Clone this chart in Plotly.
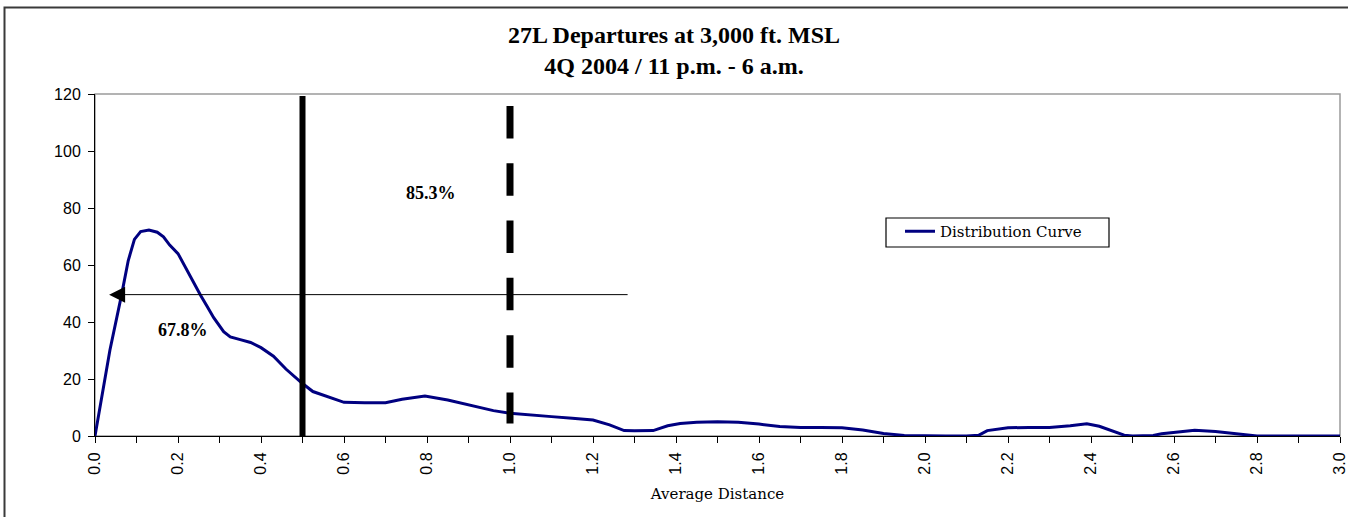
import plotly.graph_objects as go

# ---- data ----
dist = [0.0, 0.036, 0.064, 0.08, 0.095, 0.11, 0.13, 0.15, 0.165, 0.18, 0.2, 0.22, 0.24,
        0.254, 0.27, 0.286, 0.31, 0.326, 0.35, 0.375, 0.4, 0.43, 0.46, 0.5, 0.525, 0.56,
        0.6, 0.65, 0.7, 0.74, 0.795, 0.85, 0.9, 0.96, 1.0, 1.04, 1.1, 1.15, 1.2, 1.24,
        1.275, 1.3, 1.345, 1.38, 1.41, 1.45, 1.5, 1.55, 1.6, 1.65, 1.7, 1.75, 1.8, 1.85,
        1.9, 1.95, 2.0, 2.05, 2.1, 2.13, 2.15, 2.2, 2.25, 2.3, 2.35, 2.39, 2.42, 2.45,
        2.48, 2.5, 2.55, 2.57, 2.6, 2.65, 2.7, 2.75, 2.78, 2.8, 2.9, 3.0]
curve = [0.0, 30.2, 49.5, 61.5, 69.0, 71.7, 72.3, 71.5, 69.9, 67.0, 64.0, 58.5, 53.5,
         49.5, 45.5, 41.5, 36.6, 34.8, 33.8, 32.8, 31.0, 28.0, 23.5, 18.4, 15.6, 13.8,
         11.8, 11.7, 11.7, 12.9, 14.0, 12.6, 11.0, 8.9, 8.0, 7.6, 6.8, 6.2, 5.6, 3.9,
         1.9, 1.8, 1.9, 3.6, 4.4, 4.8, 5.0, 4.8, 4.2, 3.3, 3.0, 3.0, 2.9, 2.1,
         0.9, 0.2, 0.0, 0.0, 0.0, 0.3, 1.9, 2.9, 3.0, 3.0, 3.6, 4.3, 3.4, 1.9,
         0.3, 0.0, 0.2, 0.8, 1.3, 2.0, 1.6, 0.8, 0.1, 0.0, 0.0, 0.0]

x_tick_vals = [0.0, 0.2, 0.4, 0.6, 0.8, 1.0, 1.2, 1.4, 1.6, 1.8, 2.0, 2.2, 2.4, 2.6, 2.8, 3.0]
x_tick_text = ["0.0", "0.2", "0.4", "0.6", "0.8", "1.0", "1.2", "1.4", "1.6", "1.8",
               "2.0", "2.2", "2.4", "2.6", "2.8", "3.0"]
y_tick_vals = [0, 20, 40, 60, 80, 100, 120]

solid_x = 0.5
solid_top = 119.3
dash_x = 1.0
dash_top, dash_bottom = 115.8, 4.4
arrow_y = 49.6
arrow_from, arrow_to = 1.287, 0.034

labels = [("85.3%", 0.81, 85.3), ("67.8%", 0.213, 37.3)]

title_lines = ["27L Departures at 3,000 ft. MSL", "4Q 2004 / 11 p.m. - 6 a.m."]
x_title = "Average Distance"
series_name = "Distribution Curve"

# ---- layout geometry (pixels) ----
W, H = 1348, 517
L, R, T, B = 95, 8, 94, 81
pw, ph = W - L - R, H - T - B


def px_x(p):
    return (p - L) / pw


def px_y(p):
    return (H - B - p) / ph


fig = go.Figure()
fig.add_trace(go.Scatter(
    x=dist, y=curve, mode="lines", name=series_name,
    line=dict(color="#000080", width=3),
))

shapes = [
    # outer frame
    dict(type="rect", xref="paper", yref="paper",
         x0=px_x(4.5), x1=px_x(1360), y0=px_y(7.5), y1=px_y(540),
         line=dict(color="#3a3a3a", width=2), layer="below"),
    # plot area frame (grey)
    dict(type="rect", xref="paper", yref="paper", x0=0, x1=1, y0=0, y1=1,
         line=dict(color="#9a9a9a", width=1.5), layer="below"),
    # solid vertical line
    dict(type="line", xref="x", yref="y", x0=solid_x, x1=solid_x, y0=0, y1=solid_top,
         line=dict(color="black", width=6)),
    # dashed vertical line
    dict(type="line", xref="x", yref="y", x0=dash_x, x1=dash_x, y0=dash_top, y1=dash_bottom,
         line=dict(color="black", width=7, dash="32.5px,24.8px")),
    # legend frame
    dict(type="rect", xref="paper", yref="paper",
         x0=px_x(886), x1=px_x(1109), y0=px_y(247), y1=px_y(218),
         line=dict(color="black", width=1.2), fillcolor="white", layer="below"),
]

annotations = [
    dict(x=arrow_to, y=arrow_y, ax=arrow_from, ay=arrow_y, xref="x", yref="y",
         axref="x", ayref="y", text="", showarrow=True, arrowhead=2,
         arrowsize=3.2, arrowwidth=1, arrowcolor="black", standoff=0),
]
for txt, lx, ly in labels:
    annotations.append(dict(x=lx, y=ly, xref="x", yref="y", text=txt, showarrow=False,
                            font=dict(family="Liberation Serif", size=18, color="black",
                                      weight="bold")))

fig.update_layout(
    width=W, height=H,
    margin=dict(l=L, r=R, t=T, b=B, autoexpand=False),
    paper_bgcolor="white", plot_bgcolor="white",
    title=dict(text="<br>".join(title_lines), x=0.5, xref="container", xanchor="center",
               y=(H - 43) / H, yref="container", yanchor="middle",
               font=dict(family="Liberation Serif", size=24, color="black", weight="bold")),
    showlegend=True,
    legend=dict(x=px_x(900), y=px_y(215), xanchor="left", yanchor="top",
                bgcolor="rgba(0,0,0,0)", borderwidth=0,
                font=dict(family="DejaVu Serif", size=15, color="black")),
    shapes=shapes,
    annotations=annotations,
    xaxis=dict(range=[0, 3], tickmode="array", tickvals=x_tick_vals, ticktext=x_tick_text,
               tickangle=-90, ticklabeloverflow="allow",
               ticks="outside", ticklen=6, tickcolor="black", showgrid=False,
               zeroline=False, showline=True, linecolor="black", linewidth=1,
               minor=dict(dtick=0.1, tick0=0, ticks="outside", ticklen=6, tickcolor="black",
                          showgrid=False),
               tickfont=dict(family="Liberation Sans", size=16, color="black"),
               ticklabelstandoff=3,
               title=dict(text=x_title, standoff=14,
                          font=dict(family="DejaVu Serif", size=15, color="black")),
               automargin=False),
    yaxis=dict(range=[0, 120], tickmode="array", tickvals=y_tick_vals,
               ticks="outside", ticklen=6, tickcolor="black",
               showgrid=False, zeroline=False, showline=True, linecolor="black",
               linewidth=1, tickfont=dict(family="Liberation Sans", size=16, color="black"),
               ticklabelstandoff=4, automargin=False),
)

fig.write_html("out.html", config={"displayModeBar": False},
               post_script="document.body.style.margin='0';document.body.style.overflow='hidden';")
